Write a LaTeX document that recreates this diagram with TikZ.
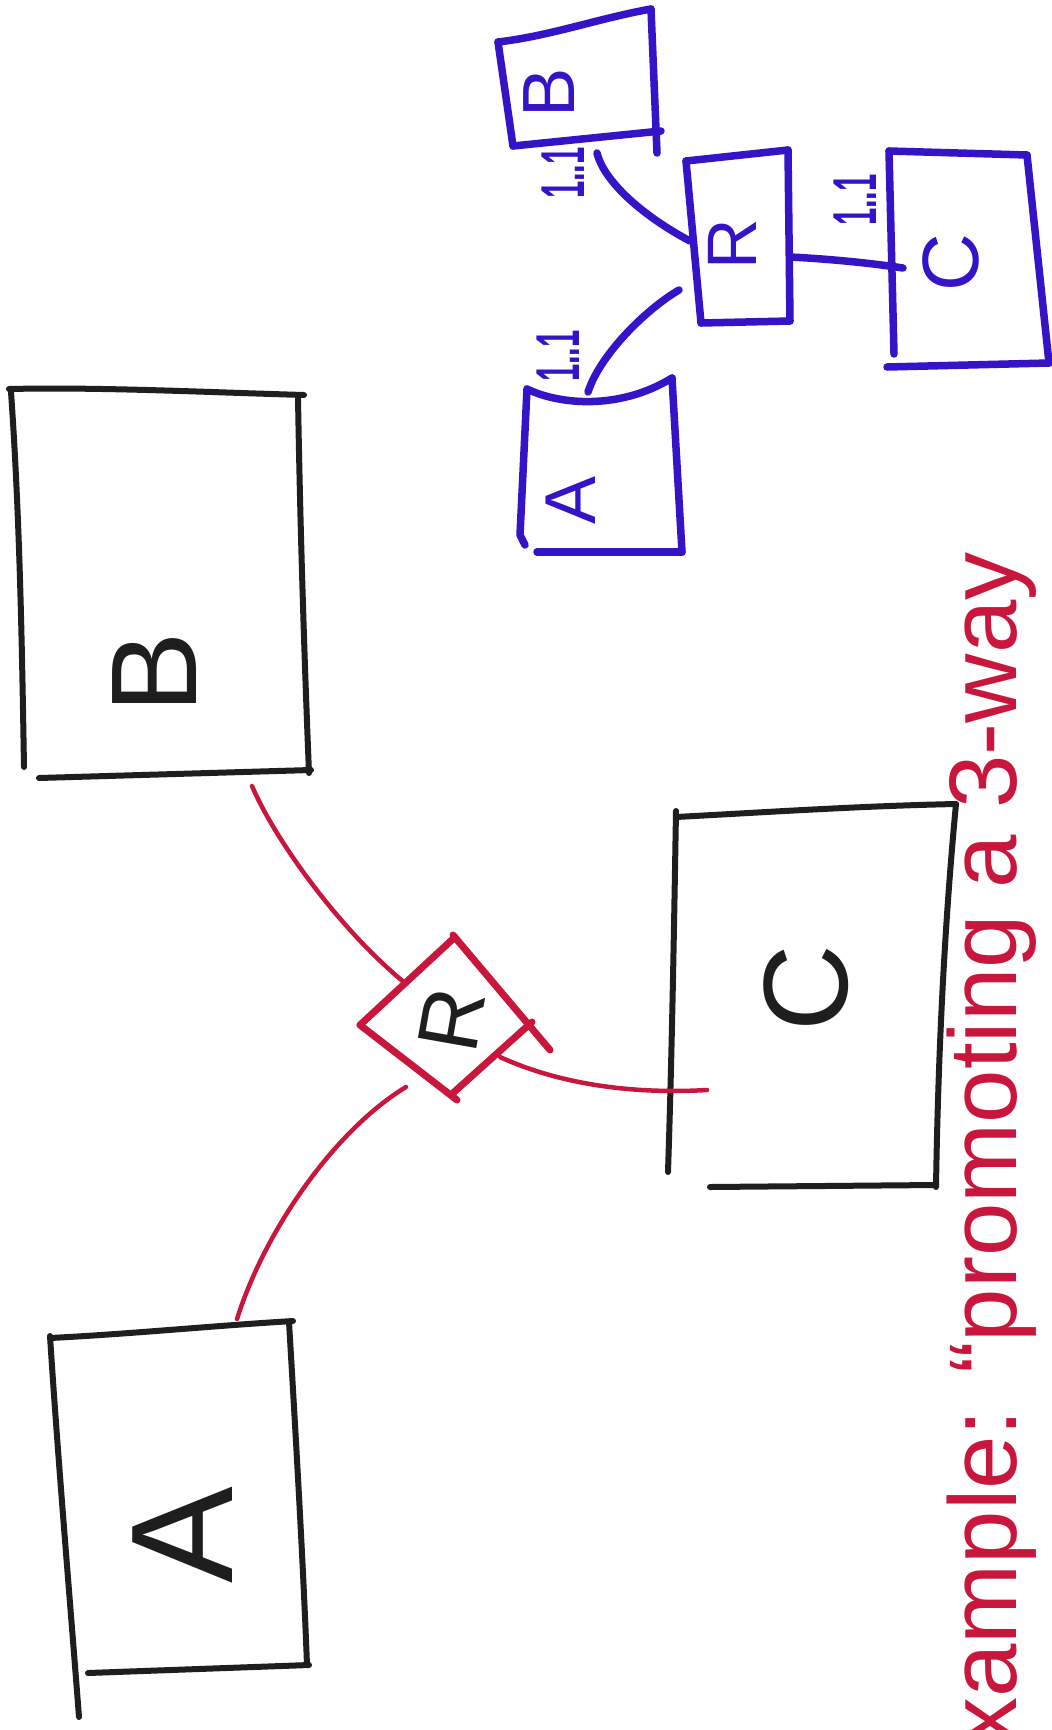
\documentclass[tikz,border=0pt]{standalone}
\usepackage{fontspec}
\setmainfont{Liberation Sans}
\definecolor{inkblack}{HTML}{1E1E1E}
\definecolor{inkred}{HTML}{C8163C}
\definecolor{inkblue}{HTML}{3514C8}
\begin{document}
\begin{tikzpicture}[x=1pt,y=-1pt,
  blackpen/.style={draw=inkblack,line width=6pt,line cap=round,line join=round},
  redpen/.style={draw=inkred,line width=7pt,line cap=round,line join=round},
  redlink/.style={draw=inkred,line width=4.5pt,line cap=round},
  bluepen/.style={draw=inkblue,line width=7.5pt,line cap=round,line join=round},
  letter/.style={rotate=90,inner sep=0pt,font=\fontsize{#1}{#1}\selectfont},
  card/.style={rotate=90,xscale=0.5,inner sep=0pt,text=inkblue,font=\fontsize{62}{62}\selectfont\bfseries}
]
\useasboundingbox (0,0) rectangle (1052,1730);
\fill[white] (0,0) rectangle (1052,1730);
\clip (0,0) rectangle (1052,1730);

% ---------- black entity boxes ----------
% B
\draw[blackpen] (9,389) .. controls (100,387) and (200,392) .. (304,395);
\draw[blackpen] (298,397) .. controls (300,520) and (304,650) .. (309,773);
\draw[blackpen] (39,778) -- (311,770);
\draw[blackpen] (11,392) .. controls (20,520) and (22,650) .. (24,767);
\node[letter=122,text=inkblack] (bigB) at (155,673) {B};
% A
\draw[blackpen] (50,1338) .. controls (130,1334) and (210,1326) .. (293,1321);
\draw[blackpen] (289,1322) .. controls (296,1440) and (303,1560) .. (307,1665);
\draw[blackpen] (88,1673) -- (309,1665);
\draw[blackpen] (50,1336) .. controls (58,1460) and (70,1600) .. (79,1717);
\node[letter=145,text=inkblack] (bigA) at (183,1535) {A};
% C
\draw[blackpen] (676,817) .. controls (770,812) and (860,806) .. (956,804);
\draw[blackpen] (956,804) .. controls (944,930) and (938,1060) .. (936,1187);
\draw[blackpen] (710,1187) -- (936,1185);
\draw[blackpen] (676,811) .. controls (674,930) and (672,1050) .. (668,1172);
\node[letter=120,text=inkblack] (bigC) at (806,988) {C};

% ---------- red relationship diamond ----------
\draw[redpen] (455,937) -- (360,1025);
\draw[redpen] (453,935) -- (550,1050);
\draw[redpen] (532,1022) -- (453,1093);
\draw[redpen] (360,1025) -- (457,1100);
\node[letter=86,rotate=-10,text=inkblack] (bigR) at (452,1020) {R};

\coordinate (bB) at (252,786);
\coordinate (rB) at (405,983);
\coordinate (bA) at (237,1319);
\coordinate (rA) at (406,1087);
\coordinate (rC) at (500,1057);
\coordinate (bC) at (707,1090);
\draw[redlink] (bB) .. controls (275,840) and (340,930) .. (rB);
\draw[redlink] (bA) .. controls (265,1230) and (335,1130) .. (rA);
\draw[redlink] (rC) .. controls (550,1080) and (620,1095) .. (bC);

% ---------- blue version ----------
% B
\draw[bluepen] (498,42) .. controls (550,36) and (600,18) .. (651,9);
\draw[bluepen] (651,9) -- (657,153);
\draw[bluepen] (513,146) -- (661,131);
\draw[bluepen] (498,42) -- (513,146);
\node[letter=74,text=inkblue] (smB) at (549,93) {B};
% R
\draw[bluepen] (686,161) -- (788,150);
\draw[bluepen] (788,150) -- (790,321);
\draw[bluepen] (701,323) -- (790,321);
\draw[bluepen] (686,161) -- (701,323);
\node[letter=70,text=inkblue] (smR) at (732,244) {R};
% C
\draw[bluepen] (889,151) -- (1027,155);
\draw[bluepen] (1027,155) -- (1049,363);
\draw[bluepen] (887,367) -- (1049,363);
\draw[bluepen] (889,151) -- (894,354);
\node[letter=80,text=inkblue] (smC) at (951,263) {C};
% A
\draw[bluepen] (527,389) .. controls (560,405) and (620,410) .. (672,378);
\draw[bluepen] (672,378) -- (682,552);
\draw[bluepen] (537,552) -- (682,552);
\draw[bluepen] (527,389) -- (520,535) -- (525,545);
\node[letter=72,text=inkblue] (smA) at (571,500) {A};

\coordinate (sbB) at (597,153);
\coordinate (srB) at (690,241);
\coordinate (srC) at (790,257);
\coordinate (scC) at (903,268);
\coordinate (srA) at (679,290);
\coordinate (saA) at (588,392);
\draw[bluepen] (sbB) .. controls (605,185) and (650,220) .. (srB);
\draw[bluepen] (srC) .. controls (830,259) and (870,263) .. (scC);
\draw[bluepen] (srA) .. controls (645,310) and (600,355) .. (saA);

\node[card] (cardB) at (563,173) {1..1};
\node[card] (cardC) at (855,200) {1..1};
\node[card] (cardA) at (558,356) {1..1};

% ---------- caption ----------
\node[rotate=90,anchor=base east,inner sep=0pt,text=inkred,
      font=\fontsize{96}{96}\selectfont] (caption) at (1016,552)
      {Example: “promoting a 3-way};
\end{tikzpicture}
\end{document}
